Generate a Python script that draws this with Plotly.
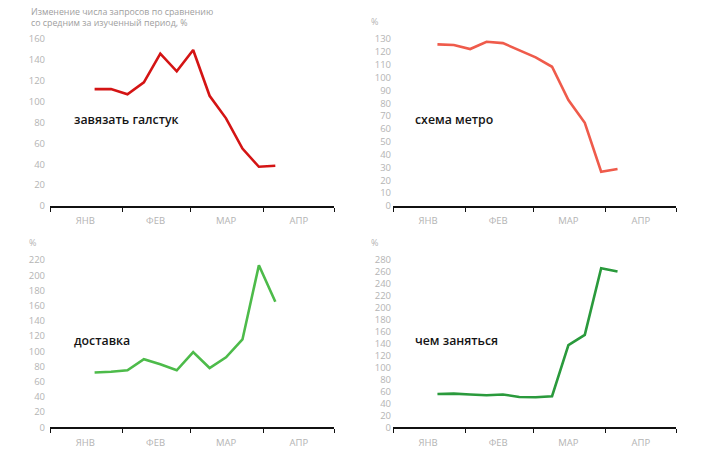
import plotly.graph_objects as go

# ---------------- data ----------------
dates = ["2020-01-20", "2020-01-27", "2020-02-03", "2020-02-10", "2020-02-17", "2020-02-24",
         "2020-03-02", "2020-03-09", "2020-03-16", "2020-03-23", "2020-03-30", "2020-04-06"]
tie = [112, 112, 107, 118.5, 146, 129, 149.5, 105.6, 84, 55, 37.6, 38.6]
metro = [125.8, 125.3, 122.2, 127.9, 126.8, 121.4, 115.7, 108.4, 82.5, 64.8, 26.7, 28.8]
delivery = [72, 73, 75, 89.5, 83, 75, 99, 78, 92, 115.5, 213, 165]
todo = [55.8, 56.3, 55, 53.6, 55, 50.8, 50.3, 52, 137.4, 154.6, 266.3, 260.8]

series_names = ["завязать галстук", "схема метро", "доставка", "чем заняться"]
month_starts = ["2020-01-01", "2020-02-01", "2020-03-01", "2020-04-01", "2020-05-01"]
month_mids = ["2020-01-16", "2020-02-15", "2020-03-16", "2020-04-16"]
month_labels = ["ЯНВ", "ФЕВ", "МАР", "АПР"]
y_max = [160, 130, 220, 280]
y_step = [20, 10, 20, 20]

title_text = "Изменение числа запросов по сравнению<br>со средним за изученный период, %"

# ---------------- layout helpers ----------------
W, H = 728, 458
colors = ["#d41414", "#ef5b4b", "#4dbb4a", "#2a9a3c"]
xdoms = [[50 / W, 334 / W], [393 / W, 676 / W]]
ydoms = [[1 - 206 / H, 1 - 39 / H], [1 - 427.3 / H, 1 - 260 / H]]
FONT = "Open Sans"
TICKCOL = "#b4b4b4"

fig = go.Figure()
values = [tie, metro, delivery, todo]
layout = dict(
    width=W, height=H,
    margin=dict(l=0, r=0, t=0, b=0, autoexpand=False),
    paper_bgcolor="white", plot_bgcolor="white",
    showlegend=False,
    font=dict(family=FONT, color=TICKCOL, size=10),
)

annotations = []
for i in range(4):
    col = i % 2
    row = i // 2
    xa = "xaxis" if i == 0 else f"xaxis{i+1}"
    ya = "yaxis" if i == 0 else f"yaxis{i+1}"
    xr = "x" if i == 0 else f"x{i+1}"
    yr = "y" if i == 0 else f"y{i+1}"
    fig.add_trace(go.Scatter(x=dates, y=values[i], mode="lines",
                             line=dict(color=colors[i], width=2.6),
                             xaxis=xr, yaxis=yr, hoverinfo="skip"))
    layout[xa] = dict(
        domain=xdoms[col], anchor=yr, type="date",
        range=["2020-01-01", "2020-05-01"],
        showgrid=False, zeroline=False, automargin=False,
        showline=True, linecolor="#111111", linewidth=2,
        tickmode="array", tickvals=month_mids, ticktext=month_labels,
        ticks="", ticklabelstandoff=5,
        tickfont=dict(family=FONT, size=9.5, color=TICKCOL),
        minor=dict(tickmode="array", tickvals=month_starts, ticks="outside",
                   ticklen=4, tickwidth=1, tickcolor="#111111", showgrid=False),
    )
    layout[ya] = dict(
        domain=ydoms[row], range=[0, y_max[i]], anchor=xr,
        tickmode="linear", tick0=0, dtick=y_step[i],
        showgrid=False, zeroline=False, showline=False, ticks="",
        automargin=False,
        ticklabelstandoff=4 if col == 0 else 1,
        tickfont=dict(family=FONT, size=9.5, color=TICKCOL),
    )

    # series label
    lx = 72 if col == 0 else 413
    ly = 119 if row == 0 else 340
    annotations.append(dict(
        xref="paper", yref="paper", x=lx / W, y=1 - ly / H,
        xanchor="left", yanchor="middle", showarrow=False,
        text=series_names[i],
        font=dict(family=FONT, size=12.3, color="#141414", weight=600),
    ))

# "%" unit labels
for (px, py) in [(374.5, 21), (32, 243), (374.5, 243)]:
    annotations.append(dict(
        xref="paper", yref="paper", x=px / W, y=1 - py / H,
        xanchor="center", yanchor="middle", showarrow=False,
        text="%", font=dict(family=FONT, size=9, color=TICKCOL),
    ))

# overall title
annotations.append(dict(
    xref="paper", yref="paper", x=29 / W, y=1 - 4 / H,
    xanchor="left", yanchor="top", align="left", showarrow=False,
    text=title_text, font=dict(family=FONT, size=8.8, color="#9e9e9e"),
))

layout["annotations"] = annotations
fig.update_layout(**layout)
fig.write_html("out.html")
